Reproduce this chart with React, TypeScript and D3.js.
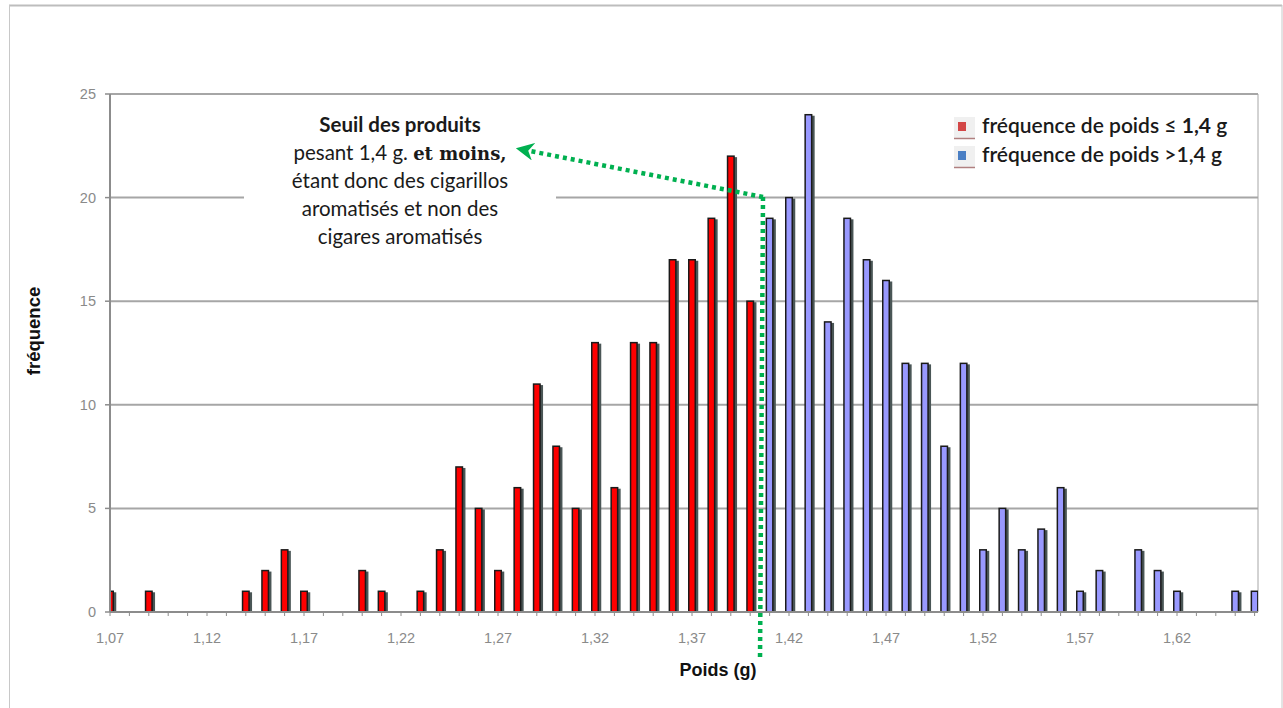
import React from "react";
import * as d3 from "d3";

const categories: number[] = [
  1.07, 1.08, 1.09, 1.1, 1.11, 1.12, 1.13, 1.14, 1.15, 1.16, 1.17, 1.18, 1.19, 1.2, 1.21, 1.22, 1.23, 1.24, 1.25, 1.26,
  1.27, 1.28, 1.29, 1.3, 1.31, 1.32, 1.33, 1.34, 1.35, 1.36, 1.37, 1.38, 1.39, 1.4, 1.41, 1.42, 1.43, 1.44, 1.45, 1.46,
  1.47, 1.48, 1.49, 1.5, 1.51, 1.52, 1.53, 1.54, 1.55, 1.56, 1.57, 1.58, 1.59, 1.6, 1.61, 1.62, 1.63, 1.64, 1.65, 1.66,
];

// fréquence de poids ≤ 1,4 g (1.07 … 1.40)
const lowValues: number[] = [
  1, 0, 1, 0, 0, 0, 0, 1, 2, 3, 1, 0, 0, 2, 1, 0, 1, 3, 7, 5,
  2, 6, 11, 8, 5, 13, 6, 13, 13, 17, 17, 19, 22, 15,
];
// fréquence de poids > 1,4 g (1.41 … 1.66)
const highValues: number[] = [
  19, 20, 24, 14, 19, 17, 16, 12, 12, 8, 12, 3, 5, 3, 4, 6, 1, 2, 0, 3, 2, 1, 0, 0, 1, 1,
];

const yTicks: number[] = [0, 5, 10, 15, 20, 25];
const xTickLabels: string[] = ["1,07", "1,12", "1,17", "1,22", "1,27", "1,32", "1,37", "1,42", "1,47", "1,52", "1,57", "1,62"];
const legendLabels: string[] = ["fréquence de poids ≤ 1,4 g", "fréquence de poids >1,4 g"];
const noteLines: string[] = [
  "Seuil des produits",
  "pesant 1,4 g. et moins,",
  "étant donc des cigarillos",
  "aromatisés et non des",
  "cigares aromatisés",
];

const PL = 110, PR = 1258, PT = 94, PB = 612;

export default function App() {
  const x = d3.scaleLinear().domain([0, 59.175]).range([PL, PR]);
  const y = d3.scaleLinear().domain([0, 25]).range([PB, PT]);
  const bw = 6.5;

  const bars = categories.map((c, i) => {
    const low = i < lowValues.length;
    const v = low ? lowValues[i] : highValues[i - lowValues.length];
    return { c, i, v, low };
  }).filter((d) => d.v > 0);

  const tickFont = "'Liberation Sans', Arial, sans-serif";
  const cal = "Lato, 'Open Sans', sans-serif";

  return (
    <svg width={1283} height={708} style={{ position: "absolute", left: 0, top: 0, background: "#fff" }}>
      <defs>
        <clipPath id="plotclip">
          <rect x={PL} y={PT - 5} width={PR - PL} height={PB - PT + 10} />
        </clipPath>
        <marker id="arrowhead" viewBox="0 0 10 10" refX="2" refY="5" markerWidth="4" markerHeight="4" orient="auto-start-reverse">
          <path d="M0,0 L10,5 L0,10 L3,5 Z" fill="#00b050" />
        </marker>
      </defs>
      {/* outer chart border */}
      <line x1={9} x2={1282} y1={5.5} y2={5.5} stroke="#bdbdbd" strokeWidth={2} />
      <line x1={9.5} x2={9.5} y1={5} y2={708} stroke="#c8c8c8" strokeWidth={1} />
      <line x1={1282} x2={1282} y1={5} y2={708} stroke="#c8c8c8" strokeWidth={1} />

      {/* gridlines */}
      {yTicks.filter((t) => t > 0).map((t) => (
        <line key={t} x1={PL} x2={PR} y1={y(t)} y2={y(t)} stroke="#a6a6a6" strokeWidth={2} />
      ))}
      <line x1={PR} x2={PR} y1={PT} y2={PB} stroke="#a6a6a6" strokeWidth={1} />

      {/* annotation box (white, covers gridline) */}
      <rect x={244} y={104} width={312} height={152} fill="#fff" />

      {/* bars */}
      <g clipPath="url(#plotclip)">
        {bars.map((d) => {
          const cx = x(d.i);
          const top = y(d.v);
          return (
            <g key={d.i}>
              <rect x={cx - bw / 2 + 1.5} y={top + 1} width={bw + 1.5} height={PB - top - 1} fill="#4a5656" />
              <rect
                x={cx - bw / 2}
                y={top}
                width={bw}
                height={PB - top}
                fill={d.low ? "#ff0000" : "#9999ff"}
                stroke="#1a1a1a"
                strokeWidth={1.5}
              />
            </g>
          );
        })}
      </g>

      {/* axes */}
      <line x1={PL} x2={PL} y1={PT} y2={PB} stroke="#8c8c8c" strokeWidth={2} />
      <line x1={PL} x2={PR} y1={PB} y2={PB} stroke="#8c8c8c" strokeWidth={2} />
      {yTicks.map((t) => (
        <g key={t}>
          <line x1={PL - 5} x2={PL} y1={y(t)} y2={y(t)} stroke="#8c8c8c" strokeWidth={1.5} />
          <text x={PL - 14} y={y(t) + 5} textAnchor="end" fontFamily={tickFont} fontSize={14.5} fill="#8a8a8a">
            {t}
          </text>
        </g>
      ))}
      {categories.map((c, i) => (
        <line key={c} x1={x(i)} x2={x(i)} y1={PB} y2={PB + 4} stroke="#8c8c8c" strokeWidth={1} />
      ))}
      {xTickLabels.map((l, k) => (
        <text key={l} x={x(k * 5)} y={643} textAnchor="middle" fontFamily={tickFont} fontSize={14.5} fill="#8a8a8a">
          {l}
        </text>
      ))}

      {/* axis titles */}
      <text x={718} y={676} textAnchor="middle" fontFamily={tickFont} fontWeight="bold" fontSize={18} fill="#111">
        Poids (g)
      </text>
      <text
        transform="translate(40,331) rotate(-90)"
        textAnchor="middle"
        fontFamily={tickFont}
        fontWeight="bold"
        fontSize={18.5}
        fill="#111"
      >
        fréquence
      </text>

      {/* annotation text */}
      {noteLines.map((l, k) => {
        const ty = 132 + k * 28;
        if (k === 1) {
          return (
            <text key={k} x={400} y={ty} textAnchor="middle" fontFamily={cal} fontSize={20.5} fill="#1a1a1a">
              pesant 1,4 g.{" "}
              <tspan fontFamily="'DejaVu Serif', 'Liberation Serif', serif" fontWeight="bold" fontSize={18}>
                et moins,
              </tspan>
            </text>
          );
        }
        return (
          <text key={k} x={400} y={ty} textAnchor="middle" fontFamily={cal} fontSize={20.5} fontWeight={k === 0 ? "bold" : "normal"} fill="#1a1a1a">
            {l}
          </text>
        );
      })}

      {/* green dotted arrow */}
      <line x1={763} y1={197} x2={760} y2={661} stroke="#00b050" strokeWidth={4.5} strokeDasharray="4 4" />
      <line x1={763} y1={197} x2={530} y2={151} stroke="#00b050" strokeWidth={4.5} strokeDasharray="4 4" markerEnd="url(#arrowhead)" />

      {/* legend */}
      {legendLabels.map((l, k) => {
        const ly = 126 + k * 29;
        return (
          <g key={k}>
            <rect x={954} y={ly - 9} width={21} height={21} fill="#f0f0f0" />
            <line x1={954} x2={975} y1={ly + 12.5} y2={ly + 12.5} stroke="#b08080" strokeWidth={1.5} />
            <rect x={958} y={ly - 4} width={8} height={9} fill={k === 0 ? "#d34747" : "#4a7fc4"} />
            <text x={982} y={ly + 7} fontFamily={cal} fontSize={21} fontWeight={600} fill="#1a1a1a">
              {k === 0 ? (
                <>
                  fréquence de poids ≤ <tspan fontWeight="bold">1,4</tspan> g
                </>
              ) : (
                l
              )}
            </text>
          </g>
        );
      })}
    </svg>
  );
}
